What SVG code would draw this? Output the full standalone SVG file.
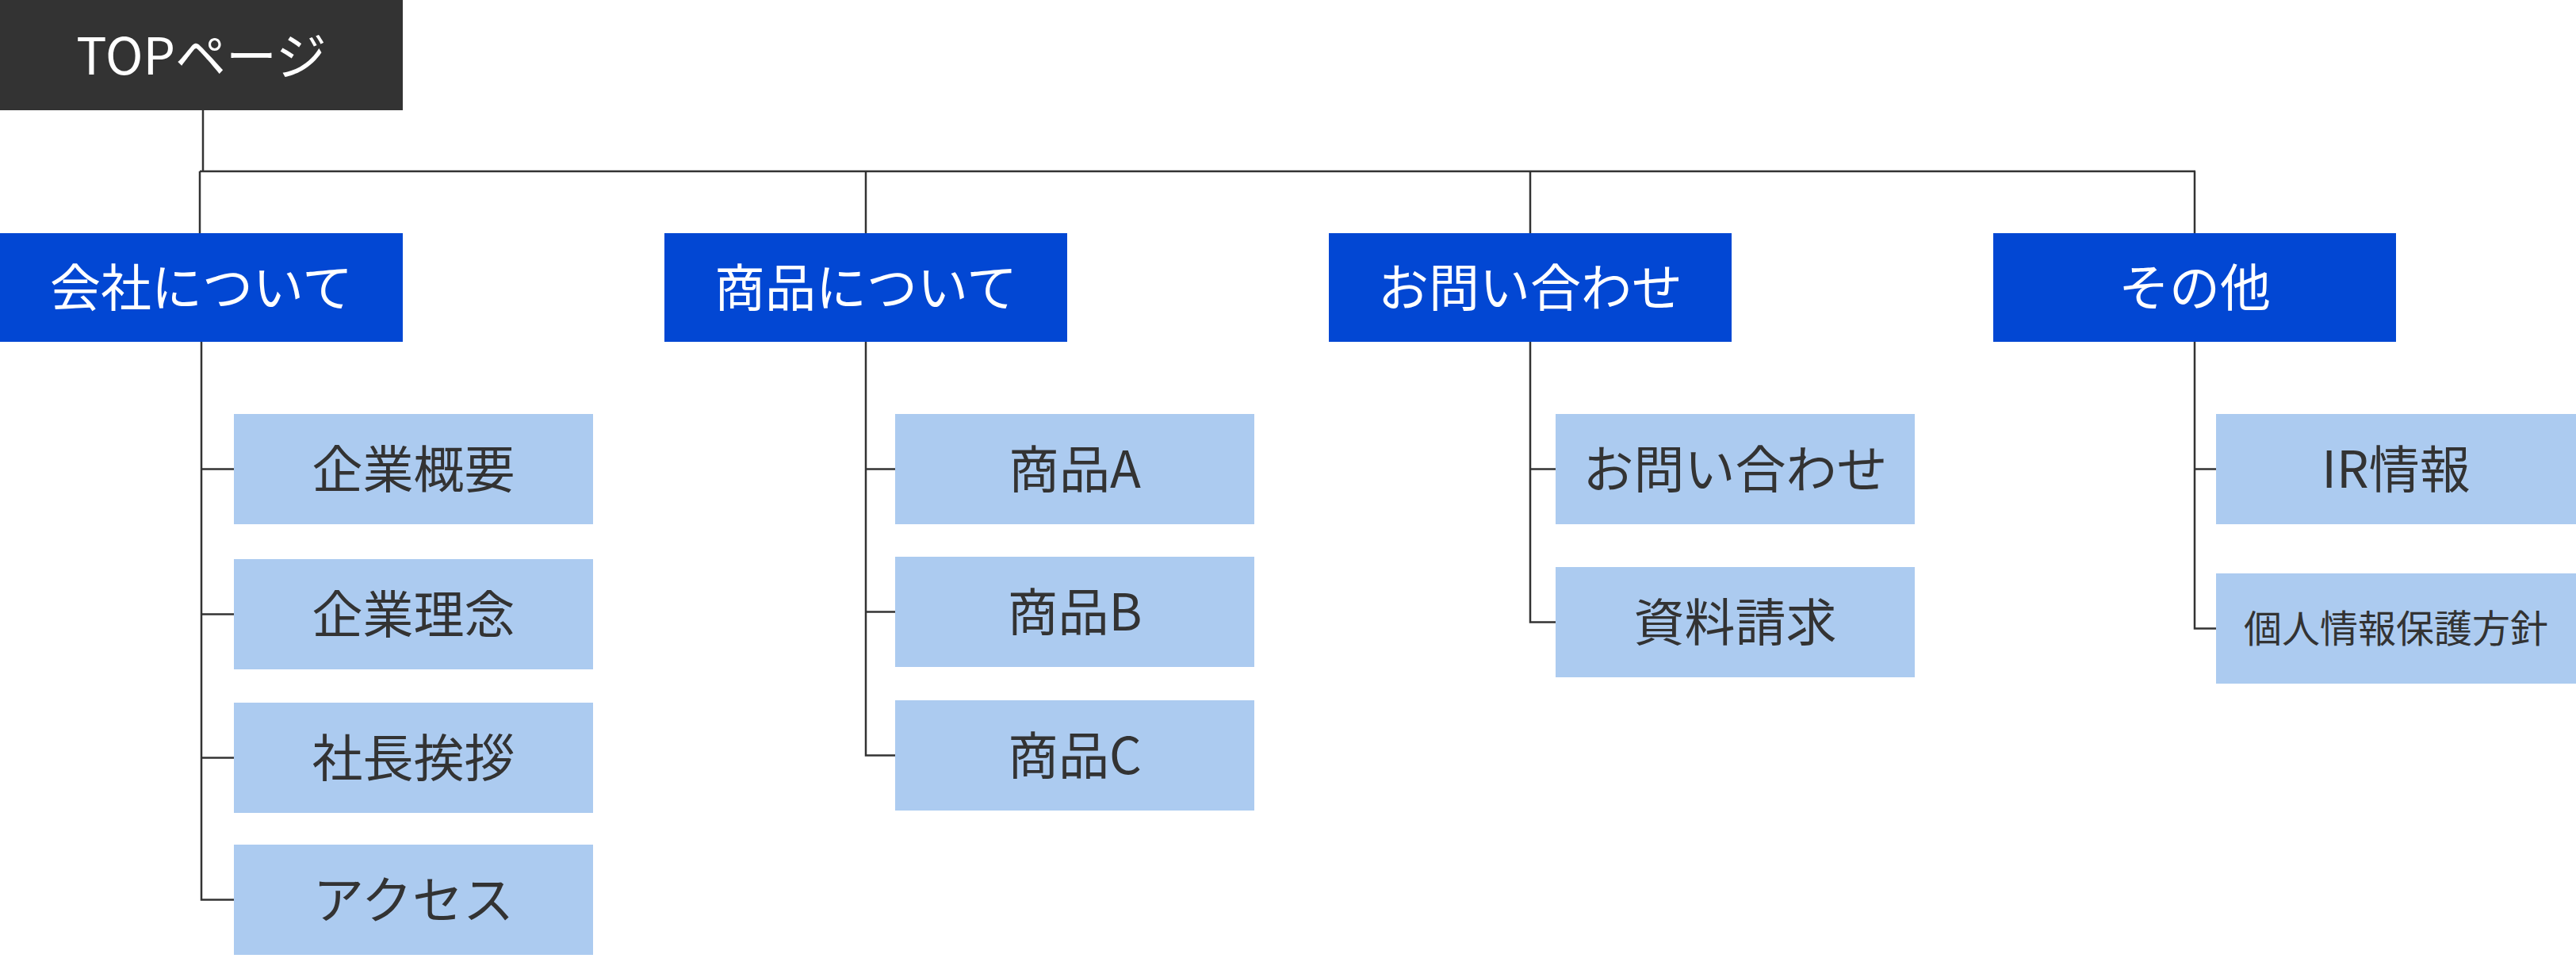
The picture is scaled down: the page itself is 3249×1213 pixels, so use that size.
<svg xmlns="http://www.w3.org/2000/svg" width="3249" height="1213" viewBox="0 0 3249 1213">
<style>
text{font-family:"Noto Sans CJK JP","Noto Sans",sans-serif;font-size:64px;text-anchor:middle}
.top rect{fill:#333333}
.top text{fill:#ffffff}
.l1 rect{fill:#0247D3}
.l1 text{fill:#ffffff}
.l2 rect{fill:#ACCBF0}
.l2 text{fill:#333333}
.conn line,.conn path{stroke:#333333;stroke-width:2.5;fill:none}
</style>
<rect width="3249" height="1213" fill="#ffffff"/>
<g class="conn" id="connectors">
<line x1="256" y1="139" x2="256" y2="216"/>
<line x1="252" y1="216" x2="2769" y2="216" stroke="#444444"/>
<line x1="252" y1="216" x2="252" y2="294"/>
<line x1="1092" y1="216" x2="1092" y2="294"/>
<line x1="1930" y1="216" x2="1930" y2="294"/>
<line x1="2768" y1="216" x2="2768" y2="294"/>
<path d="M254 431 V1134.5 H295"/>
<line x1="254" y1="591.5" x2="295" y2="591.5"/>
<line x1="254" y1="774.5" x2="295" y2="774.5"/>
<line x1="254" y1="955.5" x2="295" y2="955.5"/>
<path d="M1092 431 V952.5 H1129"/>
<line x1="1092" y1="591.5" x2="1129" y2="591.5"/>
<line x1="1092" y1="771.5" x2="1129" y2="771.5"/>
<path d="M1930 431 V784.5 H1962"/>
<line x1="1930" y1="591.5" x2="1962" y2="591.5"/>
<path d="M2768 431 V792.5 H2795"/>
<line x1="2768" y1="591.5" x2="2795" y2="591.5"/>
</g>
<g id="n-top" class="top"><rect x="0" y="0" width="508" height="139"/><text x="254" y="94">TOPページ</text></g>
<g id="n-company" class="l1"><rect x="0" y="294" width="508" height="137"/><text x="254" y="386">会社について</text></g>
<g id="n-products" class="l1"><rect x="838" y="294" width="508" height="137"/><text x="1092" y="386">商品について</text></g>
<g id="n-contact" class="l1"><rect x="1676" y="294" width="508" height="137"/><text x="1930" y="386">お問い合わせ</text></g>
<g id="n-other" class="l1"><rect x="2514" y="294" width="508" height="137"/><text x="2768" y="386">その他</text></g>
<g id="n-overview" class="l2"><rect x="295" y="522" width="453" height="139"/><text x="521.5" y="615">企業概要</text></g>
<g id="n-philosophy" class="l2"><rect x="295" y="705" width="453" height="139"/><text x="521.5" y="798">企業理念</text></g>
<g id="n-greeting" class="l2"><rect x="295" y="886" width="453" height="139"/><text x="521.5" y="979">社長挨拶</text></g>
<g id="n-access" class="l2"><rect x="295" y="1065" width="453" height="139"/><text x="521.5" y="1158">アクセス</text></g>
<g id="n-prodA" class="l2"><rect x="1129" y="522" width="453" height="139"/><text x="1355.5" y="615">商品A</text></g>
<g id="n-prodB" class="l2"><rect x="1129" y="702" width="453" height="139"/><text x="1355.5" y="795">商品B</text></g>
<g id="n-prodC" class="l2"><rect x="1129" y="883" width="453" height="139"/><text x="1355.5" y="976">商品C</text></g>
<g id="n-inquiry" class="l2"><rect x="1962" y="522" width="453" height="139"/><text x="2188.5" y="615">お問い合わせ</text></g>
<g id="n-docs" class="l2"><rect x="1962" y="715" width="453" height="139"/><text x="2188.5" y="808">資料請求</text></g>
<g id="n-ir" class="l2"><rect x="2795" y="522" width="454" height="139"/><text x="3022" y="615">IR情報</text></g>
<g id="n-privacy" class="l2"><rect x="2795" y="723" width="454" height="139"/><text x="3022" y="810" style="font-size:48px">個人情報保護方針</text></g>
</svg>
